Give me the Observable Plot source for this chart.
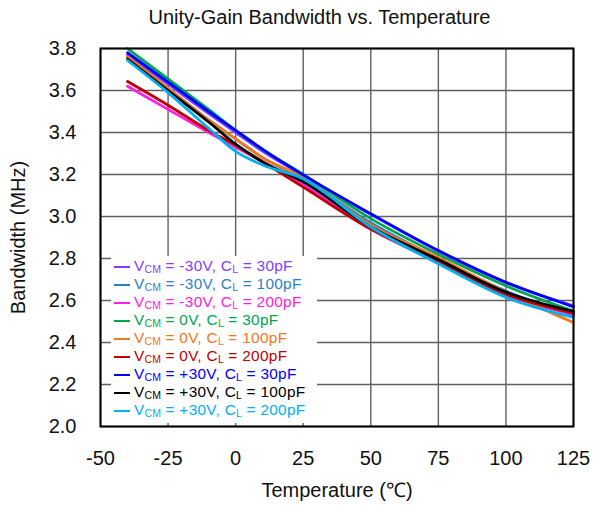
<!DOCTYPE html>
<html>
<head>
<meta charset="utf-8">
<script src="https://cdn.jsdelivr.net/npm/d3@7"></script>
<script src="https://cdn.jsdelivr.net/npm/@observablehq/plot@0.6"></script>
<style>
  html, body { margin: 0; padding: 0; background: #fff; }
  #wrap { position: relative; width: 601px; height: 507px; font-family: Arial, "Liberation Sans", sans-serif; }
  #title { position: absolute; left: 0; width: 639px; top: 6px; text-align: center; font-size: 20px; color: #111; }
  #legend { position: absolute; left: 111px; top: 256px; width: 206px; height: 167px; background: #fff; }
  .row { position: absolute; left: 0; height: 18px; font-size: 15.4px; line-height: 17px; letter-spacing: 0.3px; white-space: nowrap; }
  .row .ln { position: absolute; left: 3px; top: 9px; width: 16px; height: 2px; }
  .row .tx { position: absolute; left: 23px; top: 0; }
  .row sub { font-size: 10.5px; vertical-align: -2px; line-height: 0; letter-spacing: 0; }
</style>
</head>
<body>
<div id="wrap">
  <div id="title">Unity-Gain Bandwidth vs. Temperature</div>
</div>
<script>
const temps = [-40, -25, -10, 0, 10, 25, 50, 75, 100, 125];
const seriesNames = [
  "VCM = -30V, CL = 30pF",
  "VCM = -30V, CL = 100pF",
  "VCM = -30V, CL = 200pF",
  "VCM = 0V, CL = 30pF",
  "VCM = 0V, CL = 100pF",
  "VCM = 0V, CL = 200pF",
  "VCM = +30V, CL = 30pF",
  "VCM = +30V, CL = 100pF",
  "VCM = +30V, CL = 200pF"
];
const vcmLabels = ["-30V", "-30V", "-30V", "0V", "0V", "0V", "+30V", "+30V", "+30V"];
const clLabels = ["30pF", "100pF", "200pF", "30pF", "100pF", "200pF", "30pF", "100pF", "200pF"];
const colors = ["#8040ff", "#2f7fc8", "#ff20e0", "#00a550", "#f07820", "#c00000", "#0000ff", "#000000", "#00b0f0"];
// Bandwidth (MHz) per series at temps
const vm30_30  = [3.77, 3.63, 3.49, 3.40, 3.31, 3.195, 3.01, 2.835, 2.685, 2.575];
const vm30_100 = [3.76, 3.61, 3.46, 3.37, 3.28, 3.18, 2.97, 2.80, 2.645, 2.53];
const vm30_200 = [3.62, 3.51, 3.40, 3.33, 3.26, 3.15, 2.94, 2.78, 2.625, 2.535];
const v0_30    = [3.80, 3.655, 3.51, 3.41, 3.32, 3.20, 2.99, 2.82, 2.67, 2.55];
const v0_100   = [3.76, 3.61, 3.46, 3.37, 3.28, 3.185, 2.96, 2.805, 2.64, 2.495];
const v0_200   = [3.643, 3.53, 3.41, 3.34, 3.26, 3.14, 2.94, 2.785, 2.63, 2.54];
const vp30_30  = [3.78, 3.64, 3.50, 3.41, 3.32, 3.198, 3.013, 2.838, 2.687, 2.57];
const vp30_100 = [3.75, 3.60, 3.45, 3.345, 3.26, 3.165, 2.95, 2.795, 2.64, 2.548];
const vp30_200 = [3.743, 3.59, 3.42, 3.31, 3.245, 3.18, 2.95, 2.775, 2.615, 2.52];
const allSeries = [vm30_30, vm30_100, vm30_200, v0_30, v0_100, v0_200, vp30_30, vp30_100, vp30_200];
const xTicks = [-50, -25, 0, 25, 50, 75, 100, 125];
const yTicks = [2.0, 2.2, 2.4, 2.6, 2.8, 3.0, 3.2, 3.4, 3.6, 3.8];

const data = [];
allSeries.forEach((vals, si) => vals.forEach((v, i) => data.push({series: seriesNames[si], t: temps[i], bw: v})));

const chart = Plot.plot({
  width: 601,
  height: 507,
  marginTop: 48,
  marginBottom: 81,
  marginLeft: 100,
  marginRight: 28,
  style: {fontFamily: "Arial, 'Liberation Sans', sans-serif", fontSize: "20px", color: "#111", background: "#fff"},
  x: {domain: [-50, 125], ticks: xTicks},
  y: {domain: [2.0, 3.8], ticks: yTicks},
  color: {domain: seriesNames, range: colors},
  marks: [
    Plot.gridX(xTicks, {stroke: "#606060", strokeOpacity: 1, strokeWidth: 1.4}),
    Plot.gridY(yTicks, {stroke: "#606060", strokeOpacity: 1, strokeWidth: 1.4}),
    Plot.line(data, {x: "t", y: "bw", z: "series", stroke: "series", strokeWidth: 2.8, curve: "monotone-x"}),
    Plot.frame({stroke: "#000", strokeWidth: 2}),
    Plot.axisX(xTicks, {tickSize: 0, tickPadding: 24, fontSize: 20, label: "Temperature (℃)", labelAnchor: "center", labelArrow: "none", labelOffset: 70, tickFormat: d => String(d)}),
    Plot.axisY(yTicks, {tickSize: 0, tickPadding: 24, fontSize: 20, label: "Bandwidth (MHz)", labelAnchor: "center", labelArrow: "none", labelOffset: 90, tickFormat: d => d.toFixed(1)})
  ]
});
const wrap = document.getElementById("wrap");
wrap.insertBefore(chart, wrap.firstChild);

const legend = document.createElement("div");
legend.id = "legend";
seriesNames.forEach((name, i) => {
  const row = document.createElement("div");
  row.className = "row";
  row.style.top = (0.5 + i * 18.1) + "px";
  row.style.color = colors[i];
  row.innerHTML = `<span class="ln" style="background:${colors[i]}"></span><span class="tx">V<sub>CM</sub> = ${vcmLabels[i]}, C<sub>L</sub> = ${clLabels[i]}</span>`;
  legend.appendChild(row);
});
wrap.appendChild(legend);
</script>
</body>
</html>
